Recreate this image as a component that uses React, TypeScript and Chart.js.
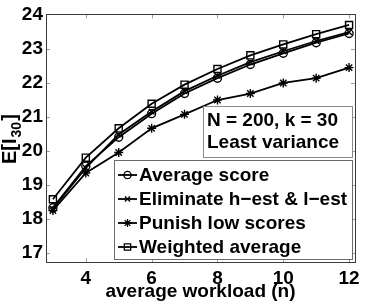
import React, { useEffect, useRef } from "react";
import { Chart, registerables } from "chart.js";
import { drawPoint } from "chart.js/helpers";

Chart.register(...registerables);

const workload = [3, 4, 5, 6, 7, 8, 9, 10, 11, 12];
const averageScore = [18.33, 19.55, 20.4, 21.09, 21.68, 22.13, 22.53, 22.86, 23.17, 23.44];
const eliminateHL = [18.3, 19.5, 20.48, 21.15, 21.75, 22.2, 22.6, 22.92, 23.22, 23.48];
const punishLow = [18.25, 19.35, 19.95, 20.66, 21.07, 21.49, 21.68, 21.99, 22.13, 22.44];
const weightedAvg = [18.58, 19.8, 20.66, 21.38, 21.94, 22.4, 22.8, 23.12, 23.42, 23.69];

const seriesNames = ["Average score", "Eliminate h\u2212est & l\u2212est", "Punish low scores", "Weighted average"];
const xTicks = [4, 6, 8, 10, 12];
const yTicks = [17, 18, 19, 20, 21, 22, 23, 24];
const infoLines = ["N = 200, k = 30", "Least variance"];

const FONT = "'Liberation Sans', Arial, Helvetica, sans-serif";

export default function App() {
  const ref = useRef<HTMLCanvasElement | null>(null);
  useEffect(() => {
    const canvas = ref.current;
    if (!canvas) return;
    const styles = [
      { pointStyle: "circle", radius: 4 },
      { pointStyle: "crossRot", radius: 4 },
      { pointStyle: "star", radius: 4.5 },
      { pointStyle: "rect", radius: 5 },
    ];
    const all = [averageScore, eliminateHL, punishLow, weightedAvg];

    const framePlugin = {
      id: "frame",
      beforeDatasetsDraw(chart: any) {
        const { ctx, chartArea: a, scales } = chart;
        ctx.save();
        ctx.strokeStyle = "#a0a0a0";
        ctx.lineWidth = 1;
        const tl = 4;
        ctx.beginPath();
        for (const v of xTicks) {
          const x = Math.round(scales.x.getPixelForValue(v)) + 0.5;
          ctx.moveTo(x, a.bottom);
          ctx.lineTo(x, a.bottom - tl);
          ctx.moveTo(x, a.top);
          ctx.lineTo(x, a.top + tl);
        }
        for (const v of yTicks) {
          const y = Math.round(scales.y.getPixelForValue(v)) + 0.5;
          ctx.moveTo(a.left, y);
          ctx.lineTo(a.left + tl, y);
          ctx.moveTo(a.right, y);
          ctx.lineTo(a.right - tl, y);
        }
        ctx.stroke();
        ctx.strokeStyle = "#3a3a3a";
        ctx.strokeRect(Math.round(a.left) + 0.5, Math.round(a.top) + 0.5, Math.round(a.right - a.left), Math.round(a.bottom - a.top));
        ctx.restore();
      },
      afterDatasetsDraw(chart: any) {
        const { ctx } = chart;
        ctx.save();
        // info text box
        ctx.fillStyle = "#ffffff";
        ctx.strokeStyle = "#8a8a8a";
        ctx.lineWidth = 1;
        ctx.fillRect(203.5, 106.5, 149, 51);
        ctx.strokeRect(203.5, 106.5, 149, 51);
        ctx.fillStyle = "#000";
        ctx.font = `bold 19px ${FONT}`;
        ctx.textBaseline = "middle";
        ctx.textAlign = "left";
        ctx.fillText(infoLines[0], 207, 121);
        ctx.fillText(infoLines[1], 207, 143);
        // legend box
        ctx.fillStyle = "#ffffff";
        ctx.strokeStyle = "#6a6a6a";
        ctx.fillRect(114.5, 160.5, 238, 99);
        ctx.strokeRect(114.5, 160.5, 238, 99);
        const ys = [175, 199, 223, 247];
        for (let i = 0; i < 4; i++) {
          const y = ys[i];
          ctx.strokeStyle = "#000";
          ctx.lineWidth = 1.8;
          ctx.beginPath();
          ctx.moveTo(118, y);
          ctx.lineTo(137, y);
          ctx.stroke();
          ctx.lineWidth = 1.3;
          ctx.fillStyle = "rgba(0,0,0,0)";
          drawPoint(ctx, { pointStyle: styles[i].pointStyle as any, radius: styles[i].radius * 0.9, rotation: 0, borderWidth: 1.3 }, 127.5, y);
          ctx.fillStyle = "#000";
          ctx.font = `bold 19px ${FONT}`;
          ctx.textBaseline = "middle";
          ctx.fillText(seriesNames[i], 139, y + 1);
        }
        // y-axis label with subscript
        ctx.save();
        ctx.translate(16, 164);
        ctx.rotate(-Math.PI / 2);
        ctx.fillStyle = "#000";
        ctx.textBaseline = "alphabetic";
        ctx.textAlign = "left";
        ctx.font = `bold 20px ${FONT}`;
        const main = "E[I";
        ctx.fillText(main, 0, 0);
        let w = ctx.measureText(main).width + 1;
        ctx.font = `bold 14px ${FONT}`;
        ctx.fillText("30", w, 5);
        w += ctx.measureText("30").width + 1;
        ctx.font = `bold 20px ${FONT}`;
        ctx.fillText("]", w, 0);
        ctx.restore();
        ctx.restore();
      },
    };

    const bgPlugin = {
      id: "bg",
      beforeDraw(chart: any) {
        const { ctx, width, height } = chart;
        ctx.save();
        ctx.fillStyle = "#ffffff";
        ctx.fillRect(0, 0, width, height);
        ctx.restore();
      },
    };

    const chart = new Chart(canvas, {
      type: "line",
      data: {
        datasets: all.map((vals, i) => ({
          label: seriesNames[i],
          data: workload.map((x, j) => ({ x, y: vals[j] })),
          borderColor: "#000",
          backgroundColor: "rgba(0,0,0,0)",
          borderWidth: 1.8,
          pointStyle: styles[i].pointStyle as any,
          pointRadius: styles[i].radius,
          pointBorderWidth: 1.4,
          pointBorderColor: "#000",
          pointBackgroundColor: "rgba(0,0,0,0)",
          tension: 0,
          fill: false,
        })),
      },
      options: {
        responsive: false,
        animation: false,
        events: [],
        layout: { padding: { left: 0, top: 10, right: 23, bottom: 0 } },
        plugins: { legend: { display: false }, tooltip: { enabled: false } },
        scales: {
          x: {
            type: "linear",
            min: 2.79,
            max: 12.18,
            afterBuildTicks: (s: any) => {
              s.ticks = xTicks.map((v) => ({ value: v }));
            },
            afterFit: (s: any) => {
              s.height = 44;
            },
            grid: { display: false, drawTicks: false },
            border: { display: false },
            ticks: {
              color: "#000",
              font: { family: FONT, size: 19, weight: "bold" },
              padding: 5,
              maxRotation: 0,
            },
            title: {
              display: true,
              text: "average workload (n)",
              color: "#000",
              font: { family: FONT, size: 19, weight: "bold" },
              padding: { top: 0, bottom: 3 },
            },
          },
          y: {
            type: "linear",
            min: 16.74,
            max: 24,
            afterBuildTicks: (s: any) => {
              s.ticks = yTicks.map((v) => ({ value: v }));
            },
            afterFit: (s: any) => {
              s.width = 46;
            },
            grid: { display: false, drawTicks: false },
            border: { display: false },
            ticks: {
              color: "#000",
              font: { family: FONT, size: 19, weight: "bold" },
              padding: 3,
            },
          },
        },
      },
      plugins: [bgPlugin, framePlugin],
    } as any);
    return () => chart.destroy();
  }, []);

  return (
    <div style={{ position: "absolute", left: 0, top: 0, width: 378, height: 306 }}>
      <canvas ref={ref} width={378} height={306} style={{ width: 378, height: 306, display: "block" }} />
    </div>
  );
}
